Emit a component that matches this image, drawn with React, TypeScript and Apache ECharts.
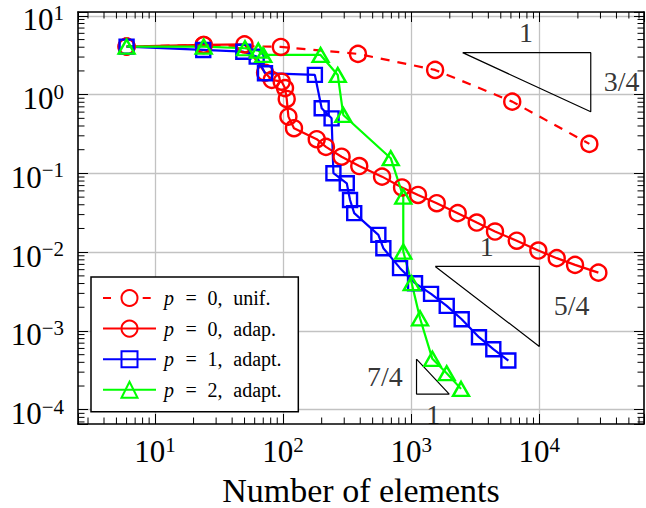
import React, { useEffect, useRef } from 'react';
import * as echarts from 'echarts';

// ---------- data ----------
const unifN = [6, 24, 96, 384, 1536, 6144, 24576];
const unifErr = [4.07, 4.27, 4.03, 3.29, 2.06, 0.815, 0.237];

const adap0N = [6, 24, 50, 72.3, 81.5, 97.5, 103.5, 106.7, 110, 121.6, 183, 216, 286, 393, 592, 848, 1130, 1582, 2306, 3245, 4508, 6660, 9820, 13670, 19000, 28900];
const adap0Err = [4.07, 4.27, 4.34, 1.9, 1.54, 1.46, 1.21, 0.882, 0.526, 0.375, 0.272, 0.217, 0.163, 0.124, 0.091, 0.0664, 0.0533, 0.0419, 0.0313, 0.0238, 0.0183, 0.014, 0.0105, 0.0084, 0.0069, 0.0055];

const adap1N = [6, 23.8, 48.9, 62.2, 72.2, 177, 200, 239, 247, 314, 333, 359, 554, 606, 818, 1071, 1428, 1893, 2478, 3380, 4373, 5730];
const adap1Err = [4.07, 3.69, 3.51, 3.04, 1.87, 1.78, 0.672, 0.5, 0.1006, 0.075, 0.046, 0.0313, 0.0166, 0.01124, 0.00627, 0.00404, 0.00296, 0.00208, 0.00141, 0.000834, 0.000587, 0.000421];

const adap2N = [6, 24, 50.4, 64, 70, 196, 267, 295, 692, 867, 867, 1009, 1171, 1462, 1892, 2448];
const adap2Err = [4.07, 4.07, 3.88, 3.62, 3.19, 3.19, 1.78, 0.552, 0.156, 0.0508, 0.0102, 0.00404, 0.00145, 0.000443, 0.000291, 0.000184];

const seriesNames = ['p = 0, unif.', 'p = 0, adap.', 'p = 1, adapt.', 'p = 2, adapt.'];

// slope triangles (data coordinates)
const tri1X = [2520, 25200, 25200, 2520];
const tri1Y = [3.41, 3.41, 0.606, 3.41];
const tri2X = [1540, 10000, 10000, 1540];
const tri2Y = [0.0066, 0.0066, 0.000636, 0.0066];
const tri3X = [1100, 1100, 1980, 1100];
const tri3Y = [0.00044, 0.000158, 0.000158, 0.00044];

const annText = ['1', '3/4', '1', '5/4', '7/4', '1'];
const annX = [7870, 43950, 3885, 17900, 624, 1487];
const annY = [6.07, 1.46, 0.01178, 0.002083, 0.000264, 0.0000861];

// axis extents
const XMIN = Math.pow(10, 0.399);
const XMAX = Math.pow(10, 4.817);
const YMIN = Math.pow(10, -4.181);
const YMAX = Math.pow(10, 1.049);

const FONT = "'Liberation Serif', 'Times New Roman', serif";
const RED = '#ff0000';
const BLUE = '#0000ff';
const GREEN = '#00ff00';

const pairs = (xs: number[], ys: number[]) => xs.map((x, i) => [x, ys[i]]);

function supLabel(v: number, lo: number, hi: number) {
  const l = Math.log10(v);
  const e = Math.round(l);
  if (Math.abs(l - e) > 1e-6 || e < lo || e > hi) return '';
  return `{b|10}{s|${e < 0 ? '\u2212' : ''}${Math.abs(e)}}`;
}

function minorTicks(lo: number, hi: number) {
  const out: number[] = [];
  for (let k = -6; k <= 6; k++) {
    for (let m = 2; m <= 9; m++) {
      const v = m * Math.pow(10, k);
      if (v > lo && v < hi) out.push(v);
    }
  }
  return out;
}

const xMinor = minorTicks(XMIN, XMAX);
const yMinor = minorTicks(YMIN, YMAX);

export default function App() {
  const ref = useRef<HTMLDivElement>(null);
  useEffect(() => {
    if (!ref.current) return;
    const chart = echarts.init(ref.current, null, { renderer: 'svg' });

    const lineSeries = (name: string, xs: number[], ys: number[], color: string, symbol: string, size: any, dashed: boolean) => ({
      type: 'line',
      name,
      data: pairs(xs, ys),
      symbol,
      symbolSize: size,
      showAllSymbol: true,
      silent: true,
      emphasis: { disabled: true },
      lineStyle: { color, width: 2.2, type: dashed ? [9, 8] : 'solid' },
      itemStyle: { color: 'rgba(0,0,0,0)', borderColor: color, borderWidth: 2.4 },
      z: 3,
    });

    const triSeries = (xs: number[], ys: number[]) => ({
      type: 'line',
      data: pairs(xs, ys),
      symbol: 'none',
      silent: true,
      lineStyle: { color: '#000', width: 1.2 },
      z: 2,
    });

    const tickStyle = { stroke: '#000', lineWidth: 1 };
    const ML = 6.5;

    const xRich = {
      b: { fontFamily: FONT, fontSize: 31, lineHeight: 35, color: '#000' },
      s: { fontFamily: FONT, fontSize: 21, lineHeight: 21, padding: [0, 0, 14, 0], color: '#000' },
    };
    const yRich = {
      b: { fontFamily: FONT, fontSize: 31, lineHeight: 35, padding: [8, 0, 0, 0], color: '#000' },
      s: { fontFamily: FONT, fontSize: 21, lineHeight: 21, padding: [0, 0, 6, 0], color: '#000' },
    };

    const axisCommon = {
      type: 'log',
      logBase: 10,
      axisLine: { show: true, onZero: false, lineStyle: { color: '#000', width: 1.6 } },
      axisTick: { show: true, inside: true, length: 10, lineStyle: { color: '#000', width: 1 } },
      minorTick: { show: false },
    };

    const option: any = {
      animation: false,
      backgroundColor: '#fff',
      grid: { left: 78, top: 12, width: 566, height: 412, outerBoundsMode: 'none', show: false },
      xAxis: [
        {
          ...axisCommon,
          position: 'bottom',
          min: XMIN,
          max: XMAX,
          axisLabel: { formatter: (v: number) => supLabel(v, 1, 4), margin: 10, rich: xRich },
          splitLine: { show: true, showMinLine: false, showMaxLine: false, lineStyle: { color: '#c2c2c2', width: 1.3 } },
          name: 'Number of elements',
          nameLocation: 'middle',
          nameGap: 50,
          nameTextStyle: { fontFamily: FONT, fontSize: 34, lineHeight: 30, color: '#000' },
        },
        {
          ...axisCommon,
          position: 'top',
          min: XMIN,
          max: XMAX,
          axisLabel: { show: false },
          splitLine: { show: false },
        },
      ],
      yAxis: [
        {
          ...axisCommon,
          position: 'left',
          min: YMIN,
          max: YMAX,
          axisLabel: { formatter: (v: number) => supLabel(v, -4, 1), margin: 14, rich: yRich },
          splitLine: { show: true, showMinLine: false, showMaxLine: false, lineStyle: { color: '#c2c2c2', width: 1.3 } },
        },
        {
          ...axisCommon,
          position: 'right',
          min: YMIN,
          max: YMAX,
          axisLabel: { show: false },
          splitLine: { show: false },
        },
      ],
      legend: {
        data: [
          { name: seriesNames[0], lineStyle: { type: [8, 31.7] } },
          seriesNames[1],
          seriesNames[2],
          seriesNames[3],
        ],
        orient: 'vertical',
        left: 91,
        top: 277,
        selectedMode: false,
        backgroundColor: '#fff',
        borderColor: '#000',
        borderWidth: 1.5,
        borderRadius: 0,
        padding: [11, 16.7, 12, 11],
        itemGap: 10.6,
        itemWidth: 53,
        itemHeight: 20,
        formatter: (name: string) => {
          const m = name.match(/^p = (\d), (.*)$/);
          if (!m) return name;
          return `{i|p}{e|=}{d|${m[1]},}{w|${m[2]}}`;
        },
        textStyle: {
          fontFamily: FONT,
          fontSize: 20,
          color: '#000',
          rich: {
            i: { fontFamily: FONT, fontSize: 20, fontStyle: 'italic', color: '#000', width: 19.5, padding: [0, 0, 0, 3] },
            e: { fontFamily: FONT, fontSize: 20, color: '#000', width: 22, padding: [0, 0, 0, 2] },
            d: { fontFamily: FONT, fontSize: 20, color: '#000', width: 25.8 },
            w: { fontFamily: FONT, fontSize: 20, color: '#000', width: 63 },
          },
        },
      },
      series: [
        {
          type: 'custom',
          name: 'xminor',
          silent: true,
          clip: false,
          data: xMinor.map((v) => [v, YMIN]),
          renderItem: (_p: any, api: any) => {
            const v = api.value(0);
            const b = api.coord([v, YMIN]);
            const t = api.coord([v, YMAX]);
            return {
              type: 'group',
              children: [
                { type: 'line', shape: { x1: b[0], y1: b[1], x2: b[0], y2: b[1] - ML }, style: tickStyle },
                { type: 'line', shape: { x1: t[0], y1: t[1], x2: t[0], y2: t[1] + ML }, style: tickStyle },
              ],
            };
          },
          z: 1,
        },
        {
          type: 'custom',
          name: 'yminor',
          silent: true,
          clip: false,
          data: yMinor.map((v) => [XMIN, v]),
          renderItem: (_p: any, api: any) => {
            const v = api.value(1);
            const l = api.coord([XMIN, v]);
            const r = api.coord([XMAX, v]);
            return {
              type: 'group',
              children: [
                { type: 'line', shape: { x1: l[0], y1: l[1], x2: l[0] + ML, y2: l[1] }, style: tickStyle },
                { type: 'line', shape: { x1: r[0], y1: r[1], x2: r[0] - ML, y2: r[1] }, style: tickStyle },
              ],
            };
          },
          z: 1,
        },
        triSeries(tri1X, tri1Y),
        triSeries(tri2X, tri2Y),
        triSeries(tri3X, tri3Y),
        {
          type: 'scatter',
          silent: true,
          clip: false,
          symbolSize: 1,
          itemStyle: { color: 'rgba(0,0,0,0)' },
          data: annX.map((x, i) => ({ value: [x, annY[i]], name: annText[i] })),
          label: { show: true, position: 'inside', formatter: '{b}', fontFamily: FONT, fontSize: 28, color: '#000' },
          z: 2,
        },
        lineSeries(seriesNames[0], unifN, unifErr, RED, 'circle', 16, true),
        lineSeries(seriesNames[1], adap0N, adap0Err, RED, 'circle', 16, false),
        lineSeries(seriesNames[2], adap1N, adap1Err, BLUE, 'rect', 14, false),
        lineSeries(seriesNames[3], adap2N, adap2Err, GREEN, 'triangle', [16, 14], false),
      ],
    };

    chart.setOption(option);
    return () => chart.dispose();
  }, []);

  return <div ref={ref} style={{ position: 'absolute', left: 0, top: 0, width: 646, height: 508 }} />;
}
